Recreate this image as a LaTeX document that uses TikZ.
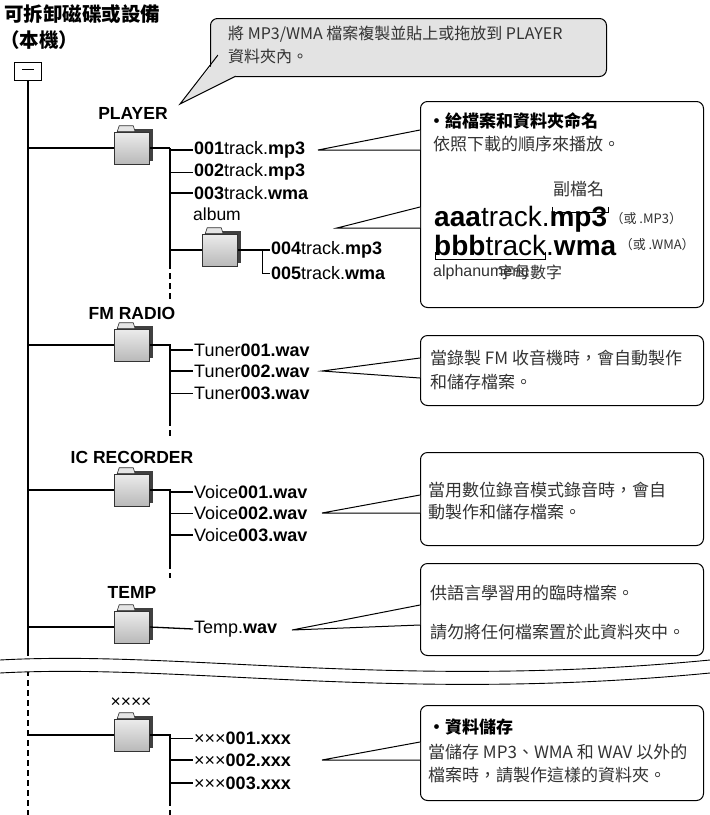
\documentclass[tikz,border=0pt]{standalone}
\usepackage{fontspec}
\setmainfont{Liberation Sans}
\newfontfamily\cjk{Noto Sans CJK TC}
\begin{document}
\begin{tikzpicture}[x=1pt,y=-1pt,
  ln/.style={line width=1.3pt},
  thin ln/.style={line width=0.8pt},
  dsh/.style={line width=1.3pt,dash pattern=on 6pt off 4pt},
  fname/.style={anchor=west,inner sep=1pt,font=\fontsize{18}{18}\selectfont},
  flabel/.style={font=\bfseries\fontsize{17.5}{18}\selectfont,inner sep=0pt},
  folder/.style={draw=black!80,line width=0.6pt,minimum width=35pt,minimum height=32pt,inner sep=0pt,
     top color=gray!15,bottom color=gray!55,
     preaction={fill=black!75,transform canvas={shift={(3pt,3pt)}}}},
  callout/.style={draw,line width=1pt,rounded corners=7pt,fill=white},
  ctext/.style={anchor=west,inner sep=0pt,font=\cjk\fontsize{17}{18}\selectfont,text=black!80},
]
\useasboundingbox (0,0) rectangle (710,815);
% title
\node[anchor=west,inner sep=0pt,font=\cjk\bfseries\fontsize{19.5}{20}\selectfont] (t1) at (4,14) {可拆卸磁碟或設備};
\node[anchor=west,inner sep=0pt,font=\cjk\bfseries\fontsize{19.5}{20}\selectfont] (t2) at (0,40) {（本機）};
\node[draw,line width=0.9pt,minimum width=27pt,minimum height=18pt,inner sep=0pt] (root) at (28,71) {\rule[0.6ex]{12pt}{0.8pt}};
% main trunk
\coordinate (mt1) at (root.south);
\coordinate (mt2) at (28,650);
\coordinate (mt3) at (28,815);
\draw[ln] (mt1) -- (mt2);
\draw[dsh] (mt2) -- (mt3);

% ---- folders
\newcommand\mkfolder[3]{% name, x, y
  \node[folder] (#1) at (#2,#3) {};
  \filldraw[draw=black!80,line width=0.6pt,fill=gray!20] ([xshift=3pt]#1.north west) -- ++(2,-6) -- ++(14,0) -- ++(2,6) -- cycle;
}
\mkfolder{fp}{132}{148}
\mkfolder{fa}{220}{250}
\mkfolder{ff}{132}{345}
\mkfolder{fi}{132}{490}
\mkfolder{ft}{132}{627}
\mkfolder{fx}{132}{735}

\node[flabel] (lp) at (133,113) {PLAYER};
\node[font=\fontsize{17.5}{18}\selectfont,inner sep=0pt] (la) at (217,214) {album};
\node[flabel] (lf) at (132,313) {FM RADIO};
\node[flabel] (li) at (132,457) {IC RECORDER};
\node[flabel] (lt) at (132,592) {TEMP};
\node[font=\fontsize{17.5}{18}\selectfont,inner sep=0pt] (lx) at (131,703) {××××};

% branches from trunk
\foreach \f/\y in {fp/148,ff/345,fi/490,ft/627,fx/735}{
  \coordinate (b\f) at (28,\y);
  \draw[ln] (b\f) -- (\f.west);
}

% PLAYER files
\node[fname] (p1) at (193,150) {\textbf{001}track.\textbf{mp3}};
\node[fname] (p2) at (193,172) {\textbf{002}track.\textbf{mp3}};
\node[fname] (p3) at (193,193) {\textbf{003}track.\textbf{wma}};
\node[fname] (p4) at (270,250) {\textbf{004}track.\textbf{mp3}};
\node[fname] (p5) at (270,273) {\textbf{005}track.\textbf{wma}};
\coordinate (sp0) at (170,148); \coordinate (sp1) at (170,263); \coordinate (sp2) at (170,300);
\draw[ln] (fp.east) -- (sp0);
\draw[ln] (sp0) -- (sp1); \draw[dsh] (sp1) -- (sp2);
\draw[ln] (sp0|-p1.west) -- (p1.west);
\draw[thin ln] (sp0|-p2.west) -- (p2.west);
\draw[ln] (sp0|-p3.west) -- (p3.west);
\draw[ln] (sp0|-fa.west) -- (fa.west);
\coordinate (sa0) at (262,250);
\draw[ln] (fa.east) -- (p4.west);
\draw[thin ln] (sa0) |- (p5.west);

% FM files
\node[fname] (f1) at (193,350) {Tuner\textbf{001.wav}};
\node[fname] (f2) at (193,371) {Tuner\textbf{002.wav}};
\node[fname] (f3) at (193,393) {Tuner\textbf{003.wav}};
\coordinate (sf0) at (170,345); \coordinate (sf1) at (170,420); \coordinate (sf2) at (170,437);
\draw[ln] (ff.east) -- (sf0) -- (sf1); \draw[dsh] (sf1) -- (sf2);
\draw[ln] (sf0|-f1.west) -- (f1.west);
\draw[ln] (sf0|-f2.west) -- (f2.west);
\draw[thin ln] (sf0|-f3.west) -- (f3.west);

% IC files
\node[fname] (i1) at (193,492) {Voice\textbf{001.wav}};
\node[fname] (i2) at (193,513) {Voice\textbf{002.wav}};
\node[fname] (i3) at (193,535) {Voice\textbf{003.wav}};
\coordinate (si0) at (170,490); \coordinate (si1) at (170,563); \coordinate (si2) at (170,578);
\draw[ln] (fi.east) -- (si0) -- (si1); \draw[dsh] (si1) -- (si2);
\draw[ln] (si0|-i1.west) -- (i1.west);
\draw[thin ln] (si0|-i2.west) -- (i2.west);
\draw[ln] (si0|-i3.west) -- (i3.west);

% TEMP
\node[fname] (t0) at (193,629) {Temp.\textbf{wav}};
\draw[ln] (ft.east) -- (t0.west);

% XXXX
\node[fname] (x1) at (193,738) {×××\textbf{001.xxx}};
\node[fname] (x2) at (193,760) {×××\textbf{002.xxx}};
\node[fname] (x3) at (193,783) {×××\textbf{003.xxx}};
\coordinate (sx0) at (170,735); \coordinate (sx1) at (170,800); \coordinate (sx2) at (170,815);
\draw[ln] (fx.east) -- (sx0) -- (sx1); \draw[dsh] (sx1) -- (sx2);
\draw[thin ln] (sx0|-x1.west) -- (x1.west);
\draw[ln] (sx0|-x2.west) -- (x2.west);
\draw[ln] (sx0|-x3.west) -- (x3.west);

% break waves
\fill[white] (0,660) .. controls (180,650) and (400,690) .. (710,660) -- (710,673) .. controls (400,703) and (180,663) .. (0,673) -- cycle;
\draw[line width=0.9pt] (0,660) .. controls (180,650) and (400,690) .. (710,660);
\draw[line width=0.9pt] (0,673) .. controls (180,663) and (400,703) .. (710,673);

% ---- callouts
\newcommand\pointer[3]{%
  \fill[white] (#1) -- (#2) -- (#3) -- cycle;
  \draw[line width=1pt] (#2) -- (#1) -- (#3);
}
% top callout
\node[callout,fill=gray!22,minimum width=396pt,minimum height=58pt,anchor=north west] (c0) at (210,18) {};
\coordinate (c0a) at (218,55); \coordinate (c0b) at (236,76); \coordinate (c0t) at (180,104);
\fill[gray!22] (c0t) -- ([xshift=-1pt,yshift=-4pt]c0a) -- ([yshift=-1pt]c0b) -- cycle;
\draw[line width=1pt] (c0a) -- (c0t) -- (c0b);
\fill[gray!22] (c0a) -- (c0b) -- (240,70) -- (222,50) -- cycle;
\node[ctext,font=\cjk\fontsize{16}{18}\selectfont] (c0x1) at (228,34) {將 MP3/WMA 檔案複製並貼上或拖放到 PLAYER};
\node[ctext,font=\cjk\fontsize{16}{18}\selectfont] (c0x2) at (228,56) {資料夾內。};

% naming callout
\node[callout,minimum width=283pt,minimum height=206pt,anchor=north west] (c1) at (420,101) {};
\coordinate (c1t1) at (318,150); \coordinate (c1a) at (420,130); \coordinate (c1b) at (420,150);
\pointer{c1t1}{c1a}{c1b}
\coordinate (c1t2) at (337,228); \coordinate (c1c) at (420,207); \coordinate (c1d) at (420,228);
\pointer{c1t2}{c1c}{c1d}
\node[ctext,font=\cjk\bfseries\fontsize{17}{18}\selectfont,text=black] (c1x1) at (428,121) {•給檔案和資料夾命名};
\node[ctext] (c1x2) at (433,144) {依照下載的順序來播放。};
\node[ctext] (c1x3) at (553,189) {副檔名};
\node[anchor=west,inner sep=0pt,font=\fontsize{28}{28}\selectfont] (aaa) at (434,219) {\textbf{aaa}track.\textbf{mp3}};
\node[ctext,font=\cjk\fontsize{13}{14}\selectfont] (aaa2) at ([xshift=3pt]aaa.east) {（或 .MP3）};
\node[anchor=west,inner sep=0pt,font=\fontsize{28}{28}\selectfont] (bbb) at (434,245) {\textbf{bbb}track.\textbf{wma}};
\node[ctext,font=\cjk\fontsize{13}{14}\selectfont] (bbb2) at ([xshift=3pt]bbb.east) {（或 .WMA）};
\draw[line width=0.6pt] ([xshift=-55pt,yshift=-1pt]aaa.north east) -- ([xshift=-55pt,yshift=-7pt]aaa.north east) -- ([xshift=1pt,yshift=-7pt]aaa.north east) -- ([xshift=1pt,yshift=-1pt]aaa.north east);
\draw[line width=0.6pt] (435,252) -- (435,259) -- (545,259) -- (545,252);
\node[ctext,font=\fontsize{16}{18}\selectfont] (an1) at (433,272) {alphanumeric};
\node[ctext,font=\cjk\fontsize{16}{18}\selectfont] (an2) at (498,272) {字母數字};

% FM callout
\node[callout,minimum width=283pt,minimum height=70pt,anchor=north west] (c2) at (420,335) {};
\pointer{322,371}{420,358}{420,378}
\node[ctext] (c2x1) at (430,358) {當錄製 FM 收音機時，會自動製作};
\node[ctext] (c2x2) at (430,382) {和儲存檔案。};

% IC callout
\node[callout,minimum width=283pt,minimum height=93pt,anchor=north west] (c3) at (420,452) {};
\pointer{322,513}{420,495}{420,513}
\node[ctext] (c3x1) at (428,490) {當用數位錄音模式錄音時，會自};
\node[ctext] (c3x2) at (428,512) {動製作和儲存檔案。};

% TEMP callout
\node[callout,minimum width=283pt,minimum height=92pt,anchor=north west] (c4) at (420,563) {};
\pointer{292,630}{420,605}{420,625}
\node[ctext] (c4x1) at (430,593) {供語言學習用的臨時檔案。};
\node[ctext] (c4x2) at (430,632) {請勿將任何檔案置於此資料夾中。};

% XXXX callout
\node[callout,minimum width=283pt,minimum height=95pt,anchor=north west] (c5) at (420,705) {};
\pointer{322,760}{420,742}{420,760}
\node[ctext,font=\cjk\bfseries\fontsize{17}{18}\selectfont,text=black] (c5x1) at (428,727) {•資料儲存};
\node[ctext] (c5x2) at (428,752) {當儲存 MP3、WMA 和 WAV 以外的};
\node[ctext] (c5x3) at (428,775) {檔案時，請製作這樣的資料夾。};
\end{tikzpicture}
\end{document}
